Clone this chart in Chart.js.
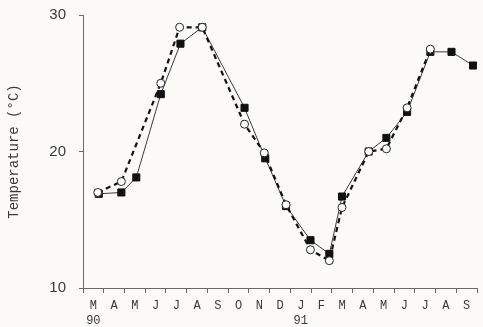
<!DOCTYPE html>
<html>
<head>
<meta charset="utf-8">
<script src="https://cdn.jsdelivr.net/npm/chart.js@4"></script>
<style>
  html, body { margin: 0; padding: 0; background: #fdfbf8; }
  #wrap { width: 483px; height: 327px; }
</style>
</head>
<body>
<div id="wrap"><canvas id="chart"></canvas></div>
<script>
// month labels, one per month starting March 1990
const monthLabels = ['M', 'A', 'M', 'J', 'J', 'A', 'S', 'O', 'N', 'D', 'J', 'F', 'M', 'A', 'M', 'J', 'J', 'A', 'S'];
const yearLabels = { 0: '90', 10: '91' };

// filled squares, solid line (x = months since 1 Mar 1990)
const squareMonths = [0.76, 1.85, 2.57, 3.75, 4.70, 5.75, 7.79, 8.79, 9.79, 10.97, 11.88, 12.49, 13.78, 14.63, 15.63, 16.75, 17.77, 18.81];
const squareTemps  = [16.9, 17.0, 18.1, 24.2, 27.9, 29.1, 23.2, 19.5, 16.0, 13.5, 12.5, 16.7, 20.0, 21.0, 22.9, 27.3, 27.3, 26.3];

// open circles, dashed line
const circleMonths = [0.71, 1.85, 3.75, 4.66, 5.75, 7.79, 8.74, 9.79, 10.97, 11.88, 12.49, 13.78, 14.63, 15.63, 16.75];
const circleTemps  = [17.0, 17.8, 25.0, 29.1, 29.1, 22.0, 19.9, 16.1, 12.8, 12.0, 15.9, 20.0, 20.2, 23.2, 27.5];

const yTicks = [10, 20, 30];

const toPoints = (xs, ys) => xs.map((x, i) => ({ x: x, y: ys[i] }));

const axisColor = '#6a6a6a';
const textColor = '#3a3a3a';

new Chart(document.getElementById('chart'), {
    type: 'line',
    data: {
        datasets: [{
            label: 'circles',
            data: toPoints(circleMonths, circleTemps),
            borderColor: '#111',
            borderWidth: 2.2,
            borderDash: [5, 4],
            pointStyle: 'circle',
            pointRadius: 4,
            pointBorderWidth: 1,
            pointBorderColor: '#222',
            pointBackgroundColor: '#fff',
            tension: 0
        }, {
            label: 'squares',
            data: toPoints(squareMonths, squareTemps),
            borderColor: '#3a3a3a',
            borderWidth: 1,
            pointStyle: 'rect',
            pointRadius: 5,
            pointBorderWidth: 1,
            pointBorderColor: '#111',
            pointBackgroundColor: '#111',
            tension: 0
        }]
    },
    options: {
        responsive: true,
        maintainAspectRatio: false,
        animation: false,
        layout: { padding: { top: 15, left: 6, right: 0, bottom: 0 } },
        plugins: { legend: { display: false }, tooltip: { enabled: false } },
        scales: {
            x: {
                type: 'linear',
                min: 0,
                max: 19,
                afterBuildTicks: (scale) => {
                    const t = [];
                    for (let k = 0; k <= 38; k++) t.push({ value: k / 2 });
                    scale.ticks = t;
                },
                afterFit: (scale) => { scale.height = 39; },
                border: { color: axisColor, width: 1 },
                grid: {
                    drawOnChartArea: false,
                    drawTicks: true,
                    tickLength: 5,
                    color: (ctx) => (ctx.tick && Number.isInteger(ctx.tick.value)) ? axisColor : 'rgba(0,0,0,0)'
                },
                ticks: {
                    autoSkip: false,
                    maxRotation: 0,
                    padding: 5,
                    color: textColor,
                    font: { family: 'Liberation Mono', size: 12, lineHeight: 1.25 },
                    callback: (v) => {
                        if (Number.isInteger(v)) return '';
                        const i = Math.floor(v);
                        if (yearLabels[i]) return [monthLabels[i], yearLabels[i]];
                        return monthLabels[i];
                    }
                }
            },
            y: {
                min: 10,
                max: 30,
                afterBuildTicks: (scale) => { scale.ticks = yTicks.map(v => ({ value: v })); },
                afterFit: (scale) => {
                    scale.width = 77;
                    scale.paddingTop = 0;
                    scale.paddingBottom = 0;
                },
                border: { color: axisColor, width: 1 },
                grid: { drawOnChartArea: false, drawTicks: true, tickLength: 4, color: axisColor },
                ticks: {
                    padding: 13,
                    color: textColor,
                    font: { family: 'Liberation Sans', size: 15 }
                },
                title: {
                    display: true,
                    text: 'Temperature (°C)',
                    color: textColor,
                    padding: 0,
                    font: { family: 'Liberation Mono', size: 14 }
                }
            }
        }
    }
});
</script>
</body>
</html>
